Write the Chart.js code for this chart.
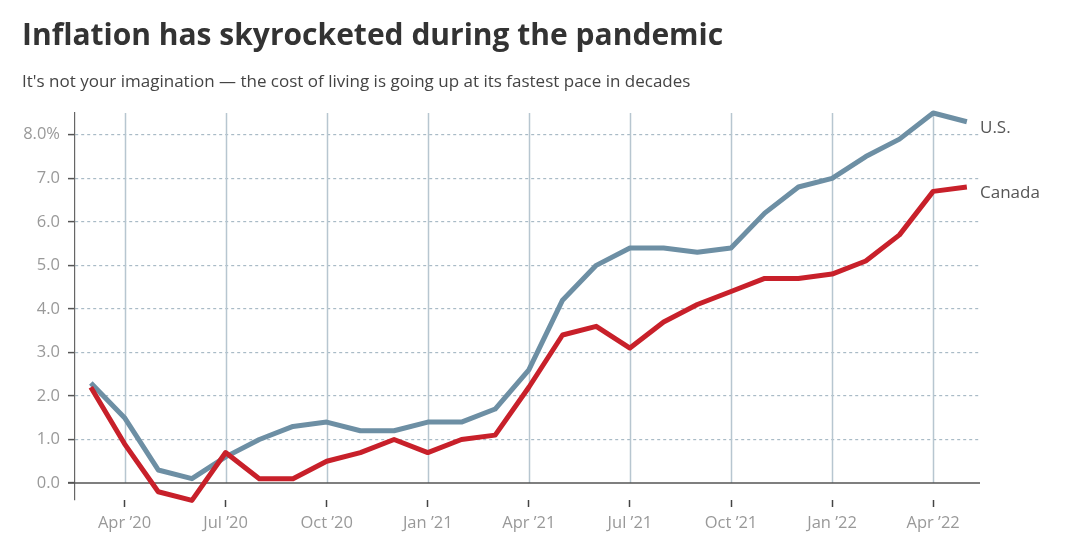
<!DOCTYPE html>
<html>
<head>
<meta charset="utf-8">
<script src="https://cdn.jsdelivr.net/npm/chart.js@4"></script>
<style>
  body { margin: 0; background: #fff; font-family: "Open Sans", sans-serif; }
  #wrap { position: relative; width: 1080px; height: 559px; overflow: hidden; }
  #title { position: absolute; left: 22px; top: 19px; font-size: 30px; line-height: 30px; font-weight: 700; color: #333; white-space: nowrap; }
  #subtitle { position: absolute; left: 22px; top: 72px; font-size: 17px; line-height: 17px; color: #444; white-space: nowrap; }
  #box { position: absolute; left: 0; top: 0; width: 1080px; height: 559px; }
</style>
</head>
<body>
<div id="wrap">
  <div id="box"><canvas id="inflationChart"></canvas></div>
  <div id="title">Inflation has skyrocketed during the pandemic</div>
  <div id="subtitle">It's not your imagination — the cost of living is going up at its fastest pace in decades</div>
</div>
<script>
// monthly CPI, year over year %, Feb 2020 - Apr 2022
const months = ["Feb 2020", "Mar 2020", "Apr 2020", "May 2020", "Jun 2020", "Jul 2020", "Aug 2020", "Sep 2020",
  "Oct 2020", "Nov 2020", "Dec 2020", "Jan 2021", "Feb 2021", "Mar 2021", "Apr 2021", "May 2021", "Jun 2021",
  "Jul 2021", "Aug 2021", "Sep 2021", "Oct 2021", "Nov 2021", "Dec 2021", "Jan 2022", "Feb 2022", "Mar 2022", "Apr 2022"];
const usValues = [2.3, 1.5, 0.3, 0.1, 0.6, 1.0, 1.3, 1.4, 1.2, 1.2, 1.4, 1.4, 1.7, 2.6, 4.2, 5.0, 5.4,
  5.4, 5.3, 5.4, 6.2, 6.8, 7.0, 7.5, 7.9, 8.5, 8.3];
const canadaValues = [2.2, 0.9, -0.2, -0.4, 0.7, 0.1, 0.1, 0.5, 0.7, 1.0, 0.7, 1.0, 1.1, 2.2, 3.4, 3.6, 3.1,
  3.7, 4.1, 4.4, 4.7, 4.7, 4.8, 5.1, 5.7, 6.7, 6.8];
// x ticks sit on every third month starting with Mar 2020 (index 1)
const xTickLabels = ["Apr \u201920", "Jul \u201920", "Oct \u201920", "Jan \u201921", "Apr \u201921",
  "Jul \u201921", "Oct \u201921", "Jan \u201922", "Apr \u201922"];
const yTicks = [0, 1, 2, 3, 4, 5, 6, 7, 8];

const US_COLOR = "#6d8fa4";
const CA_COLOR = "#c8202a";

Chart.defaults.font.family = "'Open Sans', sans-serif";

const toPoints = (vals) => vals.map((v, i) => ({ x: i, y: v }));

// vertical grid lines that stop at 0, plus the zero line
const gridPlugin = {
  id: "gridPlugin",
  beforeDatasetsDraw(chart) {
    const { ctx, chartArea, scales } = chart;
    const y0 = scales.y.getPixelForValue(0);
    ctx.save();
    ctx.strokeStyle = "#b7c6d0";
    ctx.lineWidth = 1.5;
    scales.x.ticks.forEach((t) => {
      const x = Math.round(scales.x.getPixelForValue(t.value)) + 0.5;
      ctx.beginPath();
      ctx.moveTo(x, chartArea.top);
      ctx.lineTo(x, y0);
      ctx.stroke();
    });
    ctx.strokeStyle = "#555";
    ctx.lineWidth = 1.5;
    ctx.beginPath();
    ctx.moveTo(chartArea.left - 7, y0);
    ctx.lineTo(chartArea.right, y0);
    ctx.stroke();
    ctx.restore();
  }
};

// series names at the end of each line
const endLabels = {
  id: "endLabels",
  afterDatasetsDraw(chart) {
    const { ctx, chartArea } = chart;
    ctx.save();
    ctx.font = "17px 'Open Sans', sans-serif";
    ctx.fillStyle = "#555";
    ctx.textBaseline = "middle";
    chart.data.datasets.forEach((ds, i) => {
      const pts = chart.getDatasetMeta(i).data;
      const last = pts[pts.length - 1];
      ctx.fillText(ds.label, chartArea.right, last.y + 6);
    });
    ctx.restore();
  }
};

new Chart(document.getElementById("inflationChart"), {
  type: "line",
  data: {
    datasets: [{
      label: "Canada",
      data: toPoints(canadaValues),
      borderColor: CA_COLOR,
      borderWidth: 5,
      pointRadius: 0,
      tension: 0,
      clip: false,
      borderJoinStyle: "round"
    }, {
      label: "U.S.",
      data: toPoints(usValues),
      borderColor: US_COLOR,
      borderWidth: 5,
      pointRadius: 0,
      tension: 0,
      clip: false,
      borderJoinStyle: "round"
    }]
  },
  options: {
    responsive: true,
    maintainAspectRatio: false,
    animation: false,
    layout: { padding: { top: 113, right: 100, left: 0, bottom: 0 } },
    plugins: {
      legend: { display: false },
      tooltip: { enabled: false }
    },
    scales: {
      x: {
        type: "linear",
        min: -0.47,
        max: 26.39,
        afterBuildTicks: (scale) => {
          scale.ticks = xTickLabels.map((_, k) => ({ value: 1 + 3 * k }));
        },
        afterFit: (scale) => { scale.height = 59; },
        grid: {
          drawOnChartArea: false,
          drawTicks: true,
          tickLength: 7,
          tickColor: "#444",
          tickWidth: 1.5
        },
        border: { display: false },
        ticks: {
          color: "#999",
          font: { size: 16.5 },
          padding: 6,
          maxRotation: 0,
          autoSkip: false,
          callback: (v) => xTickLabels[(v - 1) / 3]
        }
      },
      y: {
        min: -0.39,
        max: 8.5,
        afterBuildTicks: (scale) => {
          scale.ticks = yTicks.map((v) => ({ value: v }));
        },
        afterFit: (scale) => { scale.width = 75; },
        grid: {
          color: (c) => (c.tick && c.tick.value === 0 ? "transparent" : "#a9bbc6"),
          lineWidth: 1.2,
          tickLength: 7,
          tickColor: "#555",
          tickWidth: 1.5
        },
        border: { display: true, color: "#666", width: 1.2, dash: [3, 3] },
        ticks: {
          color: "#999",
          font: { size: 16.5 },
          padding: 8,
          callback: (v) => (v === 8 ? "8.0%" : v.toFixed(1))
        }
      }
    }
  },
  plugins: [gridPlugin, endLabels]
});
</script>
</body>
</html>
